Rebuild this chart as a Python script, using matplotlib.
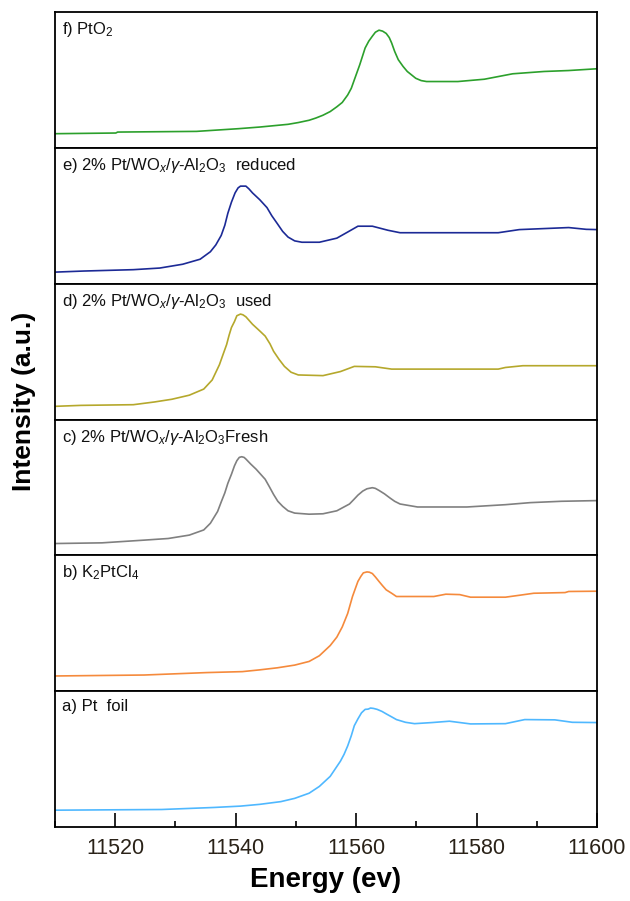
import matplotlib.pyplot as plt
from matplotlib.ticker import MultipleLocator

plt.rcParams['font.family'] = ['Liberation Sans', 'DejaVu Sans']
plt.rcParams['mathtext.fontset'] = 'custom'
plt.rcParams['mathtext.rm'] = 'Liberation Sans'
plt.rcParams['mathtext.it'] = 'Liberation Sans:italic'

# Pt L3-edge XANES spectra (normalised intensity, a.u.)
e_a = [11510, 11527.7, 11536.4, 11540.8, 11544.0, 11547.5, 11549.8, 11552.2,
       11553.9, 11555.7, 11557.4, 11558.0, 11558.6, 11559.2, 11559.7, 11560.3,
       11560.9, 11561.5, 11562.0, 11562.4, 11562.9, 11563.5, 11564.3, 11565.0,
       11565.9, 11566.7, 11568.2, 11569.7, 11572.6, 11575.5, 11579.0, 11584.8,
       11588.0, 11593.0, 11595.9, 11600]
i_a = [12.4, 12.9, 14.4, 15.4, 16.7, 18.7, 21.1, 24.9, 29.9, 37.3, 48.5, 53.5,
       59.7, 67.2, 74.6, 79.6, 84.1, 86.6, 86.8, 87.6, 87.3, 86.6, 85.1, 83.3,
       81.1, 79.1, 77.1, 76.1, 76.9, 77.9, 75.9, 76.1, 79.1, 78.9, 77.1, 76.9]

e_b = [11510, 11524.8, 11535.2, 11541.1, 11544.0, 11546.9, 11549.8, 11552.2,
       11553.9, 11555.7, 11556.8, 11557.7, 11558.6, 11559.4, 11559.9, 11560.3,
       11560.8, 11561.2, 11561.8, 11562.2, 11562.7, 11563.2, 11563.8, 11564.4,
       11565.0, 11565.9, 11566.7, 11572.9, 11574.9, 11577.2, 11579.0, 11584.8,
       11587.1, 11589.5, 11594.7, 11595.3, 11600]
i_b = [11.2, 11.9, 13.7, 14.4, 15.7, 17.2, 19.2, 21.9, 26.1, 33.6, 39.8, 47.3,
       57.2, 69.7, 75.9, 80.8, 84.6, 87.1, 87.8, 87.6, 86.6, 84.1, 80.8, 77.6,
       74.6, 72.1, 69.7, 69.7, 71.4, 71.1, 69.2, 69.2, 70.6, 72.1, 72.6, 73.4,
       73.6]

e_c = [11510, 11517.8, 11524.8, 11528.8, 11532.3, 11534.7, 11535.8, 11537.0,
       11537.6, 11538.2, 11538.7, 11539.3, 11539.8, 11540.2, 11540.6, 11541.0,
       11541.4, 11541.7, 11542.5, 11543.4, 11544.9, 11545.6, 11546.3, 11547.0,
       11547.8, 11548.7, 11549.8, 11552.2, 11554.5, 11556.8, 11558.9, 11559.6,
       11560.3, 11561.1, 11561.8, 11562.7, 11563.2, 11563.8, 11564.7, 11565.6,
       11566.4, 11567.3, 11570.2, 11578.4, 11584.8, 11588.9, 11594.1, 11600]
i_c = [8.7, 9.2, 11.2, 12.4, 14.9, 18.7, 23.6, 32.3, 39.3, 46.0, 53.0, 59.7,
       65.9, 69.7, 72.1, 72.6, 72.1, 70.9, 67.2, 63.4, 56.0, 50.5, 44.8, 39.8,
       36.1, 32.8, 31.1, 30.3, 30.6, 32.8, 37.8, 41.0, 44.3, 47.3, 49.0, 49.8,
       49.3, 47.8, 45.3, 42.3, 39.8, 37.8, 35.6, 35.6, 37.3, 38.8, 39.8, 40.3]

e_d = [11510, 11514.3, 11523.0, 11526.5, 11529.4, 11532.3, 11534.7, 11536.1,
       11537.3, 11537.9, 11538.5, 11538.9, 11539.3, 11539.8, 11540.2, 11540.8,
       11541.2, 11541.7, 11542.2, 11542.8, 11544.0, 11544.9, 11545.7, 11546.3,
       11547.2, 11548.1, 11549.2, 11550.4, 11554.5, 11557.4, 11559.7, 11563.2,
       11565.9, 11583.6, 11584.8, 11587.7, 11600]
i_d = [9.7, 10.4, 10.9, 12.9, 14.9, 17.9, 22.4, 29.1, 40.3, 47.8, 55.2, 61.9,
       67.7, 72.1, 76.4, 77.6, 77.1, 75.6, 73.1, 70.1, 65.2, 61.4, 55.7, 50.2,
       44.3, 39.1, 34.8, 32.8, 32.3, 35.3, 39.1, 38.8, 37.1, 37.1, 38.3, 39.6,
       39.6]

e_e = [11510, 11514.8, 11523.0, 11527.4, 11531.2, 11534.1, 11535.8, 11536.7,
       11537.6, 11538.2, 11538.7, 11539.3, 11539.9, 11540.4, 11540.8, 11541.7,
       11542.2, 11542.8, 11544.0, 11545.2, 11546.0, 11546.9, 11547.8, 11548.7,
       11549.8, 11551.0, 11553.9, 11556.8, 11558.6, 11560.3, 11562.7, 11565.3,
       11567.3, 11583.6, 11587.1, 11595.3, 11598.2, 11600]
i_e = [8.5, 9.3, 10.3, 11.5, 14.3, 18.0, 23.5, 28.5, 35.5, 43.0, 51.8, 60.0,
       66.8, 70.5, 71.8, 71.8, 69.8, 66.8, 61.8, 56.0, 50.0, 44.3, 38.5, 34.3,
       31.5, 30.5, 30.5, 33.5, 38.0, 42.3, 42.3, 39.3, 37.5, 37.5, 39.8, 41.3,
       40.0, 39.8]

e_f = [11510, 11520.1, 11520.4, 11533.5, 11540.5, 11544.0, 11548.7, 11550.4,
       11552.2, 11553.3, 11554.5, 11555.7, 11556.8, 11557.7, 11558.6, 11559.2,
       11559.7, 11560.6, 11561.5, 11562.1, 11562.7, 11563.2, 11563.8, 11564.4,
       11565.0, 11565.5, 11565.9, 11566.4, 11567.0, 11567.8, 11568.5, 11569.4,
       11569.9, 11570.8, 11571.7, 11576.9, 11581.3, 11586.0, 11591.2, 11595.3,
       11600]
i_f = [10.4, 10.9, 11.6, 12.1, 14.1, 15.3, 17.3, 18.6, 20.3, 21.9, 24.0, 26.7,
       30.2, 33.4, 38.9, 43.8, 50.0, 61.1, 73.5, 78.5, 82.2, 85.1, 86.6, 85.9,
       84.2, 81.2, 77.2, 71.0, 64.9, 59.9, 56.2, 53.0, 51.2, 49.5, 48.8, 48.8,
       50.5, 54.5, 56.2, 56.9, 58.2]

# top panel first
labels = [
    r'f) PtO$_2$',
    r'e) 2% Pt/WO$_x$/$\it{\gamma}$-Al$_2$O$_3$  reduced',
    r'd) 2% Pt/WO$_x$/$\it{\gamma}$-Al$_2$O$_3$  used',
    r'c) 2% Pt/WO$_x$/$\gamma$-Al$_2$O$_3$Fresh',
    r'b) K$_2$PtCl$_4$',
    'a) Pt  foil',
]
energies = [e_f, e_e, e_d, e_c, e_b, e_a]
intensities = [i_f, i_e, i_d, i_c, i_b, i_a]
colors = ['#2ca02c', '#1c2a96', '#b5a82c', '#808080', '#f58a3c', '#4fb8ff']

fig, axes = plt.subplots(6, 1, figsize=(6.3, 9.01), dpi=100, sharex=True)
fig.subplots_adjust(left=0.0873, right=0.9476, bottom=0.0821, top=0.9867,
                    hspace=0)

for ax, x, y, c, lab in zip(axes, energies, intensities, colors, labels):
    ax.plot(x, y, color=c, linewidth=1.2)
    ax.set_ylim(0, 100)
    ax.set_yticks([])
    ax.text(0.013, 0.94, lab, transform=ax.transAxes, ha='left', va='top',
            fontsize=12, color='#111111')
    for s in ax.spines.values():
        s.set_linewidth(1.3)
    ax.tick_params(axis='x', which='both', direction='in', bottom=False,
                   labelbottom=False)

bottom = axes[-1]
bottom.set_xlim(11510, 11600)
bottom.xaxis.set_major_locator(MultipleLocator(20))
bottom.xaxis.set_minor_locator(MultipleLocator(10))
bottom.tick_params(axis='x', which='both', direction='in', bottom=True,
                   labelbottom=True, labelsize=15.5, labelcolor='#2a2218',
                   pad=8)
bottom.tick_params(axis='x', which='major', length=10, width=1.2)
bottom.tick_params(axis='x', which='minor', length=4, width=1.2)
bottom.set_xlabel('Energy (ev)', fontsize=20, fontweight='bold', labelpad=6)

fig.text(0.038, 0.555, 'Intensity (a.u.)', rotation=90,
         ha='center', va='center', fontsize=19, fontweight='bold')

fig.savefig('out.png', dpi=100)
